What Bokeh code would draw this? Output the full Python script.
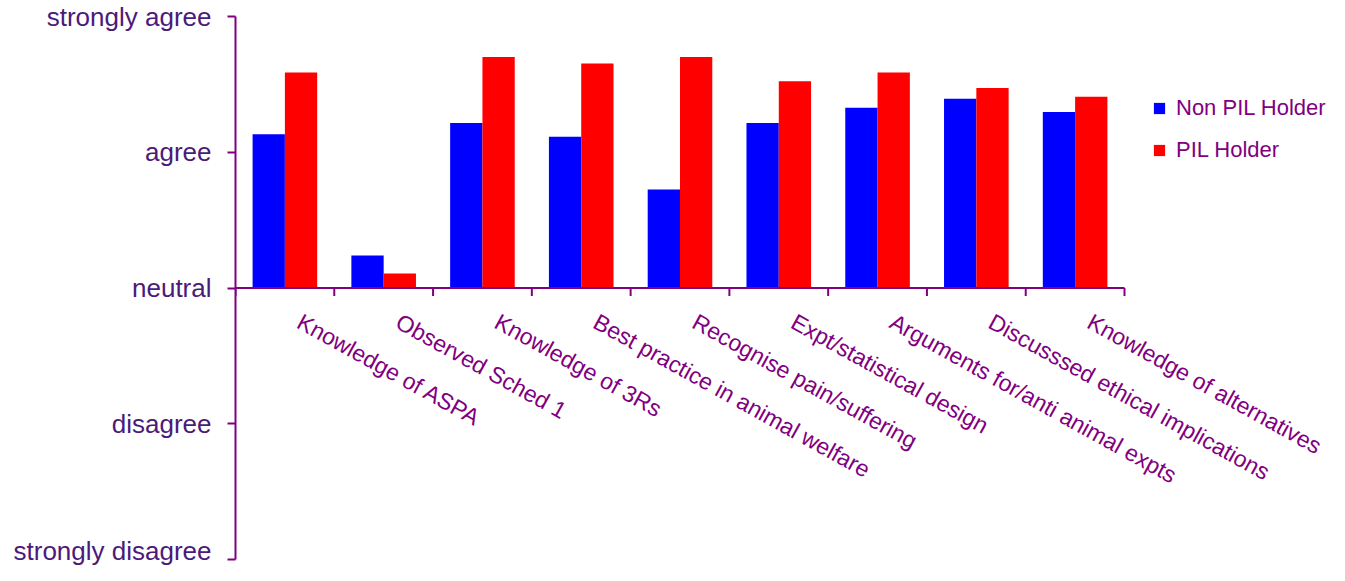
import math
from bokeh.plotting import figure
from bokeh.models import Range1d, FixedTicker, Legend, LegendItem, ColumnDataSource, LabelSet
from bokeh.core.properties import value
from bokeh.embed import file_html
from bokeh.resources import INLINE

categories = ["Knowledge of ASPA", "Observed Sched 1", "Knowledge of 3Rs",
              "Best practice in animal welfare", "Recognise pain/suffering",
              "Expt/statistical design", "Arguments for/anti animal expts",
              "Discusssed ethical implications", "Knowledge of alternatives"]
non_pil = [1.132, 0.240, 1.215, 1.115, 0.725, 1.215, 1.328, 1.394, 1.297]
pil = [1.588, 0.106, 1.702, 1.654, 1.702, 1.523, 1.588, 1.474, 1.409]
y_ticks = [-2, -1, 0, 1, 2]
y_labels = ["strongly disagree", "disagree", "neutral", "agree", "strongly agree"]

PURPLE = "#800080"
LABEL_PURPLE = "#4B1A7A"
FONT = "Liberation Sans"

W, H = 1329, 565
LEFT, TOP, BOTTOM = 235, 16, 6
AXIS_RIGHT = 1124            # where the category axis ends (px)
n = len(categories)
px_per_cat = (AXIS_RIGHT - LEFT) / n
x_end = (W - LEFT) / px_per_cat   # frame extends to the right edge so labels/legend aren't clipped

centers = [i + 0.5 for i in range(n)]
bw = 0.327

p = figure(width=W, height=H, output_backend="svg", toolbar_location=None,
           x_range=Range1d(0, x_end), y_range=Range1d(-2, 2),
           x_axis_location=None, min_border_left=LEFT, min_border_right=0,
           min_border_top=TOP, min_border_bottom=BOTTOM)
p.outline_line_color = None
p.xgrid.visible = False
p.ygrid.visible = False

src = ColumnDataSource(dict(xb=[c - bw / 2 for c in centers], xr=[c + bw / 2 for c in centers],
                            nb=non_pil, pr=pil, cx=centers, zero=[0] * n, cat=categories))
rb = p.vbar(x="xb", top="nb", bottom=0, width=bw, source=src, fill_color="#0000FF", line_color=None)
rr = p.vbar(x="xr", top="pr", bottom=0, width=bw, source=src, fill_color="#FF0000", line_color=None)

# category axis line at neutral, with boundary ticks
p.segment(x0=[0], y0=[0], x1=[n], y1=[0], line_color=PURPLE, line_width=2)
p.ray(x=list(range(n + 1)), y=[0] * (n + 1), length=8, length_units="screen",
      angle=-90, angle_units="deg", line_color=PURPLE, line_width=2)

# rotated category labels; offsets are applied in the rotated text frame
ang = 29.0
dx, dy = 8.0, 28.0   # desired screen offset (right, down)
t = math.radians(ang)
a = dx * math.cos(t) + dy * math.sin(t)
b = -dx * math.sin(t) + dy * math.cos(t)
labels = LabelSet(x="cx", y="zero", text="cat", source=src, angle=-ang, angle_units="deg",
                  text_align="left", text_baseline="top", x_offset=a, y_offset=-b,
                  text_font=value(FONT), text_font_size="23px", text_color=PURPLE)
p.add_layout(labels)

ya = p.yaxis[0]
ya.ticker = FixedTicker(ticks=y_ticks, minor_ticks=[])
ya.major_label_overrides = {t_: l for t_, l in zip(y_ticks, y_labels)}
ya.axis_line_color = PURPLE
ya.axis_line_width = 2
ya.major_tick_line_color = PURPLE
ya.major_tick_line_width = 2
ya.major_tick_out = 8
ya.major_tick_in = 0
ya.minor_tick_line_color = None
ya.major_label_standoff = 16
ya.major_label_text_font = FONT
ya.major_label_text_font_size = "26px"
ya.major_label_text_color = LABEL_PURPLE

legend = Legend(items=[LegendItem(label="Non PIL Holder", renderers=[rb]),
                       LegendItem(label="PIL Holder", renderers=[rr])],
                location=(1152 - LEFT, H - BOTTOM - 163), orientation="vertical",
                glyph_width=14, glyph_height=14, label_standoff=10, spacing=16,
                padding=0, margin=0, border_line_color=None, background_fill_alpha=0,
                label_text_font=FONT, label_text_font_size="22px", label_text_color=PURPLE)
p.add_layout(legend)

open("out.html", "w").write(file_html(p, INLINE))
